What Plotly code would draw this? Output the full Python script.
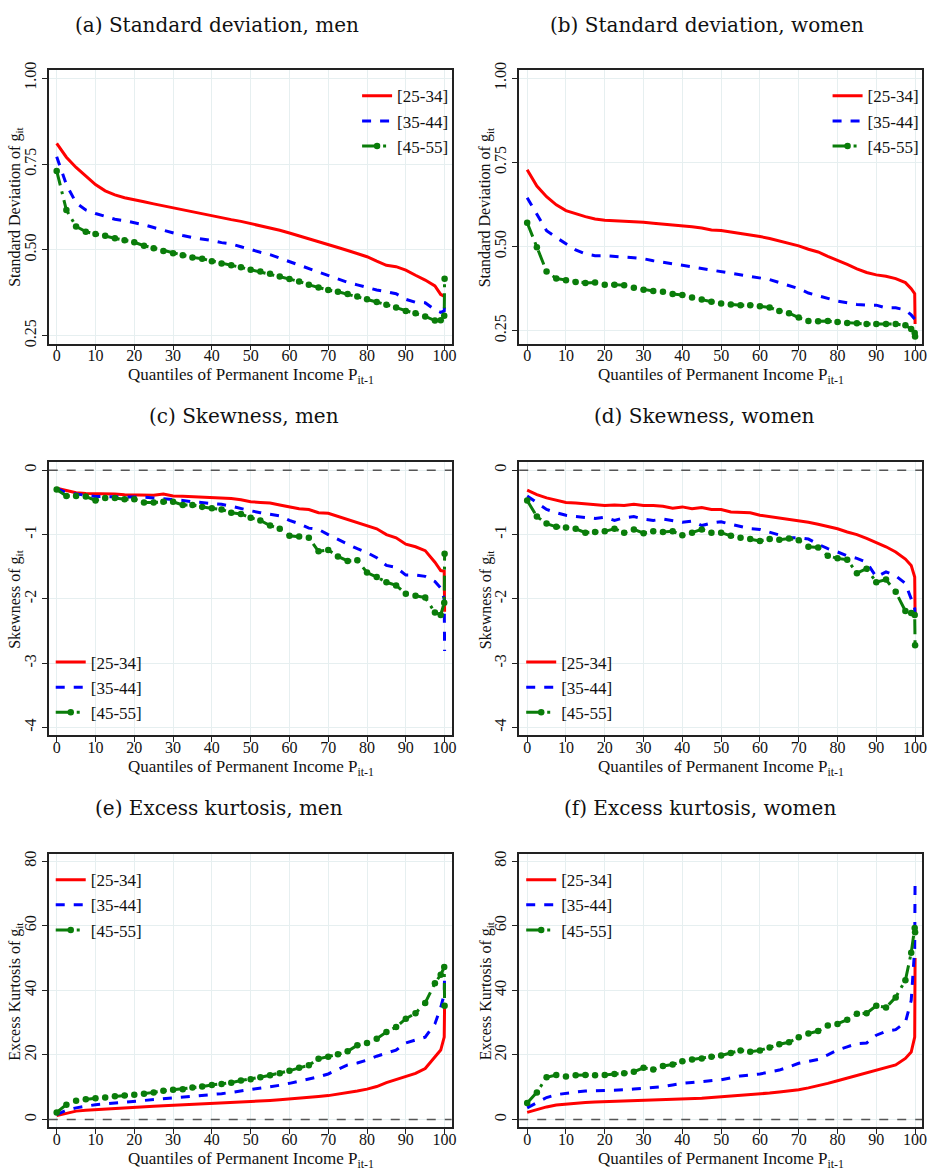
import plotly.graph_objects as go

QUANTILES = [0, 2.5, 5, 7.5, 10, 12.5, 15, 17.5, 20, 22.5, 25, 27.5, 30, 32.5, 35, 37.5,
             40, 42.5, 45, 47.5, 50, 52.5, 55, 57.5, 60, 62.5, 65, 67.5, 70, 72.5, 75,
             77.5, 80, 82.5, 85, 87.5, 90, 92.5, 95, 97.5, 99, 99.9, 100]
AGE_GROUPS = ["[25-34]", "[35-44]", "[45-55]"]

# (a) Standard deviation, men
sd_men_25 = [0.81, 0.77, 0.74, 0.715, 0.69, 0.672, 0.66, 0.652, 0.645, 0.64, 0.634, 0.628, 0.623,
             0.617, 0.611, 0.606, 0.600, 0.594, 0.588, 0.583, 0.577, 0.571, 0.564, 0.557, 0.549,
             0.541, 0.533, 0.525, 0.517, 0.507, 0.498, 0.49, 0.48, 0.467, 0.455, 0.451, 0.441,
             0.426, 0.412, 0.395, 0.37, 0.365, 0.365]
sd_men_35 = [0.771, 0.69, 0.637, 0.616, 0.606, 0.597, 0.589, 0.585, 0.58, 0.573, 0.565, 0.557,
             0.549, 0.542, 0.536, 0.532, 0.527, 0.521, 0.517, 0.509, 0.50, 0.493, 0.486, 0.476,
             0.466, 0.455, 0.445, 0.436, 0.426, 0.415, 0.405, 0.398, 0.39, 0.383, 0.378, 0.372,
             0.356, 0.347, 0.346, 0.325, 0.318, 0.322, 0.34]
sd_men_45 = [0.73, 0.616, 0.568, 0.553, 0.546, 0.541, 0.534, 0.528, 0.522, 0.512, 0.505, 0.497,
             0.49, 0.484, 0.478, 0.474, 0.467, 0.46, 0.455, 0.449, 0.442, 0.437, 0.43, 0.422,
             0.415, 0.408, 0.398, 0.39, 0.383, 0.378, 0.371, 0.364, 0.356, 0.348, 0.34, 0.332,
             0.322, 0.315, 0.306, 0.294, 0.295, 0.308, 0.416]

# (b) Standard deviation, women
sd_women_25 = [0.728, 0.68, 0.648, 0.624, 0.607, 0.597, 0.589, 0.582, 0.578, 0.577, 0.576, 0.575,
               0.572, 0.569, 0.567, 0.565, 0.562, 0.559, 0.555, 0.549, 0.548, 0.544, 0.540, 0.536,
               0.530, 0.524, 0.517, 0.510, 0.502, 0.492, 0.484, 0.471, 0.460, 0.447, 0.434, 0.423,
               0.416, 0.412, 0.405, 0.393, 0.375, 0.36, 0.27]
sd_women_35 = [0.645, 0.595, 0.547, 0.527, 0.508, 0.49, 0.478, 0.473, 0.473, 0.472, 0.469, 0.467,
               0.464, 0.458, 0.454, 0.45, 0.446, 0.44, 0.435, 0.43, 0.426, 0.42, 0.415, 0.41,
               0.407, 0.402, 0.393, 0.385, 0.375, 0.362, 0.354, 0.345, 0.338, 0.333, 0.328, 0.326,
               0.326, 0.318, 0.318, 0.312, 0.297, 0.285, 0.258]
sd_women_45 = [0.571, 0.498, 0.426, 0.405, 0.40, 0.395, 0.392, 0.393, 0.387, 0.387, 0.385, 0.378,
               0.372, 0.368, 0.366, 0.359, 0.356, 0.349, 0.343, 0.336, 0.331, 0.328, 0.326, 0.326,
               0.323, 0.319, 0.309, 0.302, 0.289, 0.279, 0.278, 0.279, 0.276, 0.273, 0.272, 0.27,
               0.27, 0.27, 0.27, 0.266, 0.255, 0.243, 0.233]

# (c) Skewness, men
skew_men_25 = [-0.28, -0.32, -0.35, -0.36, -0.36, -0.365, -0.37, -0.38, -0.38, -0.39, -0.39, -0.37,
               -0.40, -0.405, -0.41, -0.415, -0.42, -0.43, -0.44, -0.46, -0.49, -0.50, -0.51, -0.54,
               -0.57, -0.60, -0.61, -0.66, -0.67, -0.72, -0.77, -0.82, -0.87, -0.91, -1.0, -1.05,
               -1.15, -1.19, -1.25, -1.43, -1.56, -1.57, -2.2]
skew_men_35 = [-0.28, -0.35, -0.37, -0.39, -0.41, -0.41, -0.41, -0.41, -0.41, -0.42, -0.43, -0.44,
               -0.46, -0.47, -0.49, -0.50, -0.51, -0.53, -0.56, -0.60, -0.63, -0.66, -0.69, -0.71,
               -0.78, -0.83, -0.90, -0.92, -1.0, -1.08, -1.15, -1.22, -1.28, -1.36, -1.48, -1.51,
               -1.63, -1.63, -1.65, -1.73, -1.83, -2.0, -2.81]
skew_men_45 = [-0.30, -0.40, -0.40, -0.41, -0.47, -0.43, -0.43, -0.45, -0.45, -0.50, -0.50, -0.49,
               -0.49, -0.54, -0.54, -0.57, -0.59, -0.61, -0.66, -0.68, -0.74, -0.78, -0.86, -0.91,
               -1.02, -1.03, -1.05, -1.26, -1.24, -1.34, -1.41, -1.40, -1.59, -1.66, -1.74, -1.79,
               -1.92, -1.95, -1.98, -2.21, -2.25, -2.06, -1.30]

# (d) Skewness, women
skew_women_25 = [-0.31, -0.38, -0.43, -0.47, -0.50, -0.51, -0.52, -0.53, -0.55, -0.54, -0.55, -0.53,
                 -0.55, -0.55, -0.56, -0.59, -0.57, -0.60, -0.58, -0.61, -0.61, -0.65, -0.65, -0.66,
                 -0.70, -0.72, -0.74, -0.76, -0.79, -0.81, -0.84, -0.87, -0.91, -0.96, -1.0, -1.06,
                 -1.12, -1.19, -1.27, -1.38, -1.48, -1.66, -2.25]
skew_women_35 = [-0.40, -0.51, -0.61, -0.66, -0.70, -0.72, -0.74, -0.75, -0.73, -0.78, -0.74, -0.72,
                 -0.76, -0.78, -0.76, -0.79, -0.81, -0.79, -0.86, -0.82, -0.80, -0.84, -0.87, -0.91,
                 -0.92, -0.96, -1.0, -1.05, -1.05, -1.07, -1.15, -1.22, -1.27, -1.33, -1.37, -1.43,
                 -1.66, -1.58, -1.64, -1.76, -2.0, -2.15, -2.25]
skew_women_45 = [-0.47, -0.72, -0.83, -0.88, -0.89, -0.91, -0.97, -0.96, -0.95, -0.91, -0.97, -0.92,
                 -0.98, -0.95, -0.96, -0.95, -1.01, -0.97, -0.92, -0.97, -0.97, -1.02, -1.05, -1.07,
                 -1.10, -1.07, -1.08, -1.06, -1.09, -1.19, -1.20, -1.33, -1.37, -1.39, -1.60, -1.53,
                 -1.74, -1.70, -1.89, -2.19, -2.22, -2.25, -2.72]

# (e) Excess kurtosis, men
kurt_men_25 = [1.2, 2.0, 2.6, 2.9, 3.1, 3.25, 3.4, 3.6, 3.8, 3.95, 4.1, 4.25, 4.4, 4.5, 4.6, 4.75,
               4.9, 5.0, 5.1, 5.25, 5.4, 5.6, 5.9, 6.1, 6.3, 6.55, 6.8, 7.1, 7.4, 7.8, 8.2, 8.8,
               9.4, 10.2, 11.4, 12.3, 13.3, 14.3, 15.8, 19.6, 21.5, 25.5, 35.8]
kurt_men_35 = [1.5, 2.9, 3.6, 4.1, 4.6, 4.85, 5.1, 5.35, 5.6, 5.85, 6.1, 6.35, 6.6, 6.9, 7.2, 7.45,
               7.7, 8.0, 8.4, 8.8, 9.2, 9.6, 10.0, 10.6, 11.2, 11.8, 12.5, 13.2, 14.1, 15.4, 16.9,
               17.5, 18.4, 19.6, 20.6, 21.5, 23.7, 24.7, 25.5, 29.6, 34.7, 38.8, 45.0]
kurt_men_45 = [2.2, 4.6, 5.8, 6.3, 6.6, 6.8, 7.2, 7.4, 7.7, 8.0, 8.4, 8.9, 9.2, 9.4, 9.9, 10.2,
               10.7, 11.0, 11.4, 12.1, 12.5, 13.1, 13.7, 14.3, 15.1, 16.0, 16.8, 18.8, 19.4, 20.2,
               21.1, 23.0, 23.7, 25.0, 27.1, 28.6, 31.2, 32.9, 36.1, 42.2, 44.8, 47.2, 35.2]

# (f) Excess kurtosis, women
kurt_women_25 = [2.2, 3.1, 3.9, 4.5, 4.8, 5.05, 5.3, 5.4, 5.5, 5.55, 5.6, 5.75, 5.9, 5.95, 6.0,
                 6.15, 6.3, 6.45, 6.6, 6.8, 7.0, 7.2, 7.4, 7.7, 8.0, 8.2, 8.5, 8.8, 9.2, 9.8, 10.4,
                 11.2, 12.0, 12.8, 13.6, 14.4, 15.3, 16.0, 16.9, 18.9, 20.9, 25.5, 50.0]
kurt_women_35 = [3.6, 5.1, 6.8, 7.7, 8.2, 8.5, 8.8, 8.85, 8.9, 9.0, 9.2, 9.45, 9.7, 9.95, 10.2,
                 10.7, 11.2, 11.45, 11.7, 12.0, 12.3, 12.9, 13.5, 13.8, 14.1, 14.7, 15.3, 16.3,
                 17.4, 18.0, 18.6, 20.0, 21.5, 22.5, 23.5, 23.7, 26.1, 27.3, 27.8, 30.1, 36.8,
                 53.0, 74.8]
kurt_women_45 = [5.1, 8.4, 13.1, 13.8, 13.3, 13.7, 13.8, 13.7, 13.8, 14.1, 14.3, 14.8, 16.0, 15.5,
                 16.6, 17.0, 18.0, 18.6, 18.9, 19.4, 19.8, 20.6, 21.4, 21.0, 21.4, 22.3, 23.3, 23.9,
                 25.5, 26.6, 27.4, 29.1, 29.6, 30.9, 32.7, 32.9, 35.2, 34.7, 37.8, 43.1, 51.6, 59.3,
                 58.0]

PANEL_TITLES = ["(a) Standard deviation, men", "(b) Standard deviation, women",
                "(c) Skewness, men", "(d) Skewness, women",
                "(e) Excess kurtosis, men", "(f) Excess kurtosis, women"]
Y_TITLES = ["Standard Deviation of g<sub>it</sub>", "Standard Deviation of g<sub>it</sub>",
            "Skewness of g<sub>it</sub>", "Skewness of g<sub>it</sub>",
            "Excess Kurtosis of g<sub>it</sub>", "Excess Kurtosis of g<sub>it</sub>"]
X_TITLE = "Quantiles of Permanent Income P<sub>it-1</sub>"
X_TICKS = [0, 10, 20, 30, 40, 50, 60, 70, 80, 90, 100]
SD_TICKS = [0.25, 0.50, 0.75, 1.00]
SKEW_TICKS = [-4, -3, -2, -1, 0]
SKEW_TICKTEXT = ["-4", "-3", "-2", "-1", "0"]
KURT_TICKS = [0, 20, 40, 60, 80]

panels = [
    (sd_men_25, sd_men_35, sd_men_45),
    (sd_women_25, sd_women_35, sd_women_45),
    (skew_men_25, skew_men_35, skew_men_45),
    (skew_women_25, skew_women_35, skew_women_45),
    (kurt_men_25, kurt_men_35, kurt_men_45),
    (kurt_women_25, kurt_women_35, kurt_women_45),
]

W, H = 940, 1174
SERIF = "Liberation Serif, Times New Roman, serif"
TITLE_FONT = "DejaVu Serif, serif"

# plot-area pixel boxes (left, right, top, bottom)
COLS = [(49, 454), (522, 927)]
ROWS = [(63, 339), (459, 735), (855, 1131)]
YRANGES = [[0.227, 1.023], [0.212, 1.0235], [-4.123, 0.123], [-4.123, 0.123],
           [-2.45, 82.1], [-2.45, 82.1]]
TITLE_X = [218, 711, 245, 708, 220, 704]
TITLE_Y = [17, 17, 412, 412, 808, 808]

styles = [
    dict(line=dict(color="#ff0000", width=3), mode="lines"),
    dict(line=dict(color="#0000ff", width=3, dash="dash"), mode="lines"),
    dict(line=dict(color="#0a7d0a", width=3, dash="longdashdot"), mode="lines+markers",
         marker=dict(color="#0a7d0a", size=6.5)),
]

fig = go.Figure()
layout = dict(width=W, height=H, margin=dict(l=0, r=0, t=0, b=0),
              paper_bgcolor="white", plot_bgcolor="white", showlegend=True,
              annotations=[], shapes=[])

grid_color = "#e6eff0"
for i, series in enumerate(panels):
    r, c = divmod(i, 2)
    ax = "" if i == 0 else str(i + 1)
    legend_id = "legend" if i == 0 else f"legend{i + 1}"
    for g, (vals, st) in enumerate(zip(series, styles)):
        fig.add_trace(go.Scatter(x=QUANTILES, y=vals, name=AGE_GROUPS[g], xaxis="x" + ax,
                                 yaxis="y" + ax, legend=legend_id, **st))
    (l, rgt), (t, b) = COLS[c], ROWS[r]
    xdom = [l / W, rgt / W]
    ydom = [1 - b / H, 1 - t / H]
    layout["xaxis" + ax] = dict(domain=xdom, anchor="y" + ax, range=[-2.05, 101.8],
                                tickvals=X_TICKS, showgrid=True, gridcolor=grid_color,
                                showline=True, linecolor="#222", linewidth=1.5, mirror=True,
                                ticks="outside", ticklen=5, tickcolor="#222", zeroline=False,
                                ticklabelstandoff=-8,
                                tickfont=dict(family=SERIF, size=16, color="#111"))
    if r == 0:
        ytv, ytt = SD_TICKS, ["%.2f" % v for v in SD_TICKS]
    elif r == 1:
        ytv, ytt = SKEW_TICKS, SKEW_TICKTEXT
    else:
        ytv, ytt = KURT_TICKS, [str(v) for v in KURT_TICKS]
    layout["yaxis" + ax] = dict(domain=ydom, anchor="x" + ax, range=YRANGES[i],
                                tickvals=ytv, ticktext=ytt, tickangle=-90,
                                showgrid=True, gridcolor=grid_color,
                                showline=True, linecolor="#222", linewidth=1.5, mirror=True,
                                ticks="outside", ticklen=5, tickcolor="#222", zeroline=False,
                                tickfont=dict(family=SERIF, size=16, color="#111"))
    # panel title
    layout["annotations"].append(dict(text=PANEL_TITLES[i], x=TITLE_X[i] / W, y=1 - TITLE_Y[i] / H,
                                      xref="paper", yref="paper", showarrow=False,
                                      xanchor="center", yanchor="middle",
                                      font=dict(family=TITLE_FONT, size=20, color="#111")))
    # x axis title
    layout["annotations"].append(dict(text=X_TITLE, x=((l + 8) + (rgt - 7)) / 2 / W,
                                      y=1 - (b + 33) / H, xref="paper", yref="paper",
                                      showarrow=False, xanchor="center", yanchor="middle",
                                      font=dict(family=SERIF, size=17, color="#111")))
    # y axis title
    layout["annotations"].append(dict(text=Y_TITLES[i], x=(l - 33) / W, y=1 - (t + b) / 2 / H,
                                      xref="paper", yref="paper", textangle=-90,
                                      showarrow=False, xanchor="center", yanchor="middle",
                                      font=dict(family=SERIF, size=16, color="#111")))
    # zero reference line for skewness and kurtosis
    if r > 0:
        layout["shapes"].append(dict(type="line", xref="x" + ax + " domain", x0=0, x1=1,
                                     yref="y" + ax, y0=0, y1=0,
                                     line=dict(color="#555", width=1.5, dash="dash")))
    # legends
    if r == 0:
        lx, ly, xa, ya = rgt - 95, t + 8, "left", "top"
    elif r == 1:
        lx, ly, xa, ya = l + 2, b - 5, "left", "bottom"
    else:
        lx, ly, xa, ya = l + 2, t + 8, "left", "top"
    layout[legend_id] = dict(x=lx / W, y=1 - ly / H, xanchor=xa, yanchor=ya,
                             xref="paper", yref="paper", bgcolor="rgba(0,0,0,0)",
                             font=dict(family=SERIF, size=17, color="#111"),
                             tracegroupgap=0, itemwidth=30)

fig.update_layout(**layout)
fig.write_html("out.html", config={"displayModeBar": False},
               post_script="document.body.style.margin='0';document.body.style.padding='0';")
